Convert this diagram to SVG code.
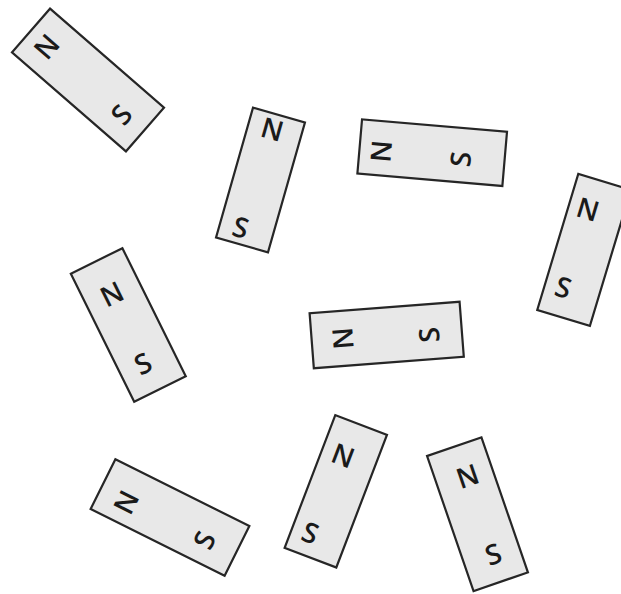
<svg xmlns="http://www.w3.org/2000/svg" width="621" height="594" viewBox="0 0 621 594">
<style>
.mag rect{fill:#e8e8e8;stroke:#262626;stroke-width:2.2}
.mag text{font-family:"Open Sans","Liberation Sans",sans-serif;font-size:28px;font-weight:600;fill:#1a1a1a;text-anchor:middle;dominant-baseline:central}
</style>
<rect width="621" height="594" fill="#ffffff"/>
<g id="magnet1" class="mag" transform="translate(88,80) rotate(-49)">
<rect x="-29" y="-75.5" width="58" height="151"/>
<text x="-2" y="-54">N</text><text x="-4" y="47">S</text>
</g>
<g id="magnet2" class="mag" transform="translate(260.5,180) rotate(15.9)">
<rect x="-27" y="-67.5" width="54" height="135"/>
<text x="-2.5" y="-53">N</text><text x="-6" y="50">S</text>
</g>
<g id="magnet3" class="mag" transform="translate(432.2,152.7) rotate(-85.1)">
<rect x="-27.2" y="-72.75" width="54.4" height="145.5"/>
<text x="-3" y="-52">N</text><text x="-4" y="28">S</text>
</g>
<g id="magnet4" class="mag" transform="translate(584.1,249.9) rotate(16.8)">
<rect x="-27.5" y="-71" width="55" height="142"/>
<text x="-8" y="-41">N</text><text x="-9" y="41">S</text>
</g>
<g id="magnet5" class="mag" transform="translate(128.3,325) rotate(-26.3)">
<rect x="-28.75" y="-71.5" width="57.5" height="143"/>
<text x="-1" y="-36">N</text><text x="-4" y="40">S</text>
</g>
<g id="magnet6" class="mag" transform="translate(386.7,335) rotate(-94.4)">
<rect x="-27.6" y="-75.2" width="55.2" height="150.4"/>
<text x="0" y="-45">N</text><text x="-3" y="41.5">S</text>
</g>
<g id="magnet7" class="mag" transform="translate(170,517.5) rotate(-63.5)">
<rect x="-27.75" y="-74.85" width="55.5" height="149.7"/>
<text x="-6" y="-47">N</text><text x="-5" y="40">S</text>
</g>
<g id="magnet8" class="mag" transform="translate(335.8,491.3) rotate(20.9)">
<rect x="-27.65" y="-71" width="55.3" height="142"/>
<text x="-6" y="-37">N</text><text x="-9" y="47">S</text>
</g>
<g id="magnet9" class="mag" transform="translate(477.5,514.2) rotate(-19)">
<rect x="-28.75" y="-71.4" width="57.5" height="142.8"/>
<text x="3" y="-40">N</text><text x="2" y="42">S</text>
</g>
<g id="connectors"/>
</svg>
